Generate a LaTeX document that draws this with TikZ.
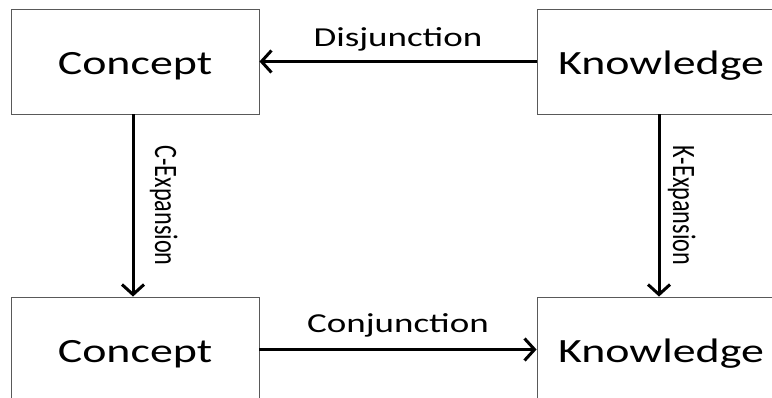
\documentclass[tikz,border=0pt]{standalone}
\usepackage{fontspec}
\setmainfont{Carlito}
\usetikzlibrary{arrows.meta}
\begin{document}
\begin{tikzpicture}[x=1pt,y=-1pt,
 boxnode/.style={draw=black!65, line width=0.9pt, minimum width=248pt, minimum height=105pt, inner sep=0pt, text height=40pt, text depth=14pt, font=\fontsize{34}{40}\selectfont},
 conn/.style={line width=3pt, -{Straight Barb[length=10pt,width=22pt]}},
 hlabel/.style={font=\fontsize{27.4}{32}\selectfont, anchor=base, inner sep=0pt},
 vlabel/.style={font=\fontsize{24.2}{29}\selectfont, anchor=base, inner sep=0pt, rotate=-90}]
\clip (0,0) rectangle (772,398);
\useasboundingbox (0,0) rectangle (772,398);
\fill[white] (0,0) rectangle (772,398);
\node[boxnode] (c1) at (135,61.5) {\scalebox{1.35}[1]{Concept}};
\node[boxnode] (k1) at (661,61.5) {\scalebox{1.35}[1]{Knowledge}};
\node[boxnode] (c2) at (135,349.5) {\scalebox{1.35}[1]{Concept}};
\node[boxnode] (k2) at (661,349.5) {\scalebox{1.35}[1]{Knowledge}};
\draw[conn] (k1.west) -- node[midway, hlabel, yshift=15pt]{\scalebox{1.35}[1]{Disjunction}} (c1.east);
\draw[conn] (c2.east) -- node[midway, hlabel, yshift=17pt]{\scalebox{1.35}[1]{Conjunction}} (k2.west);
\draw[conn] ([xshift=-2pt]c1.south) -- node[midway, vlabel, yshift=22pt]{\scalebox{1}[1.35]{C-Expansion}} ([xshift=-2pt]c2.north);
\draw[conn] ([xshift=-2pt]k1.south) -- node[midway, vlabel, yshift=14pt]{\scalebox{1}[1.35]{K-Expansion}} ([xshift=-2pt]k2.north);
\end{tikzpicture}
\end{document}
